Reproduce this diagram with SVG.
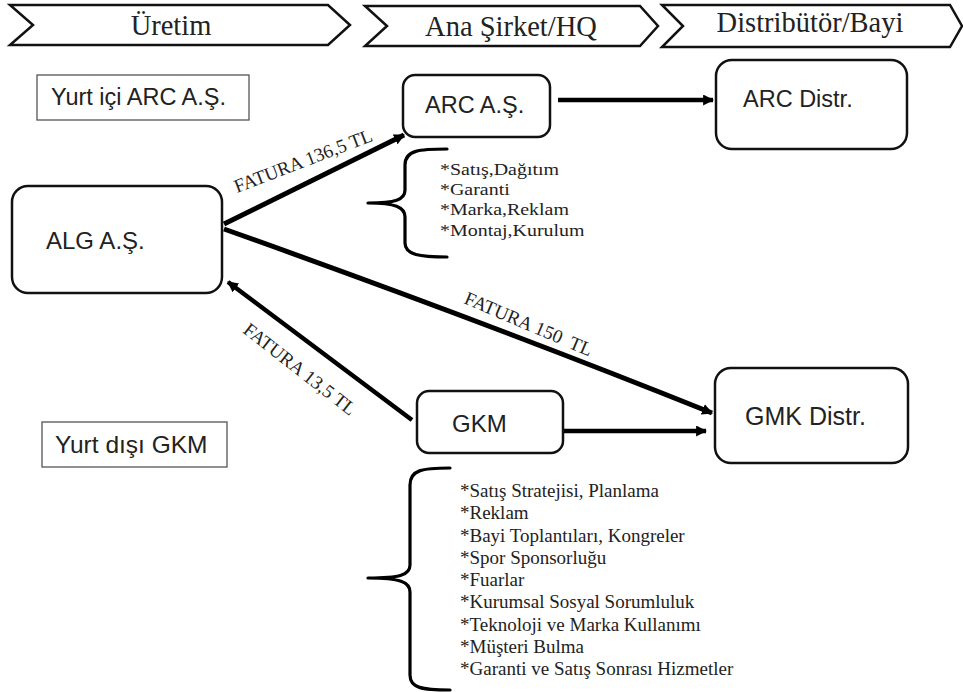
<svg xmlns="http://www.w3.org/2000/svg" width="963" height="692" viewBox="0 0 963 692">
<style>
.chev{fill:#fff;stroke:#111;stroke-width:2.5;stroke-linejoin:miter}
.hd{font-family:"Liberation Serif","Times New Roman",serif;font-size:28.5px;fill:#222;text-anchor:middle}
.box{fill:#fff;stroke:#111;stroke-width:2.5}
.lbl{font-family:"Liberation Sans",Arial,sans-serif;font-size:23.5px;fill:#222}
.plain{fill:#fff;stroke:#555;stroke-width:1.3}
.ln{fill:none;stroke:#000;stroke-width:5}
.ln2{fill:none;stroke:#000;stroke-width:4.5}
.brace{fill:none;stroke:#000;stroke-width:3.2;stroke-linecap:round;stroke-linejoin:round}
.fat{font-family:"Liberation Serif","Times New Roman",serif;font-size:19px;fill:#222}
.li{font-family:"Liberation Serif","Times New Roman",serif;font-size:17.5px;fill:#222}
.li2{font-family:"Liberation Serif","Times New Roman",serif;font-size:19px;fill:#222}
</style>
<defs>
<marker id="ah" viewBox="0 0 10 10" refX="9" refY="5" markerWidth="11" markerHeight="11" markerUnits="userSpaceOnUse" orient="auto">
<path d="M0,0 L10,5 L0,10 Z" fill="#000"/>
</marker>
</defs>
<rect width="963" height="692" fill="#fff"/>

<g id="header">
<g id="h-uretim"><polygon class="chev" points="10,5 328,5 350,25 328,45 10,45 33,25"/><text class="hd" x="171" y="35">Üretim</text></g>
<g id="h-ana"><polygon class="chev" points="365,6 640,6 658,26 640,46 365,46 387,26"/><text class="hd" x="511" y="36">Ana Şirket/HQ</text></g>
<g id="h-dist"><polygon class="chev" points="662,5 950,5 962,26 950,47 662,47 683,26"/><text class="hd" x="810" y="32">Distribütör/Bayi</text></g>
</g>

<g id="yurtici"><rect class="plain" x="37" y="75" width="212" height="45"/><text class="lbl" x="51" y="105">Yurt içi ARC A.Ş.</text></g>
<g id="yurtdisi"><rect class="plain" x="42" y="422" width="185" height="45"/><text class="lbl" x="55" y="453" style="font-size:24.5px">Yurt dışı GKM</text></g>

<g id="alg"><rect class="box" x="12" y="186" width="210" height="107" rx="16"/><text class="lbl" x="46" y="249" style="font-size:24px">ALG A.Ş.</text></g>
<g id="arc"><rect class="box" x="403" y="75" width="147" height="62" rx="12"/><text class="lbl" x="425" y="113">ARC A.Ş.</text></g>
<g id="arcdistr"><rect class="box" x="716" y="60" width="191" height="89" rx="16"/><text class="lbl" x="743" y="107">ARC Distr.</text></g>
<g id="gkm"><rect class="box" x="417" y="391" width="146" height="62" rx="12"/><text class="lbl" x="452" y="432" style="font-size:24px">GKM</text></g>
<g id="gmkdistr"><rect class="box" x="715" y="368" width="193" height="95" rx="16"/><text class="lbl" x="745" y="425" style="font-size:25px">GMK Distr.</text></g>

<g id="connectors">
<line class="ln" x1="224" y1="224" x2="404" y2="135" marker-end="url(#ah)"/>
<line class="ln2" x1="558" y1="100" x2="713" y2="100" marker-end="url(#ah)"/>
<path class="ln" d="M224,229 Q480,320 712,413" marker-end="url(#ah)"/>
<line class="ln2" x1="412" y1="420" x2="228" y2="282" marker-end="url(#ah)"/>
<line class="ln2" x1="564" y1="431" x2="706" y2="431" marker-end="url(#ah)"/>
<text class="fat" transform="translate(237,193) rotate(-21)">FATURA 136,5 TL</text>
<text class="fat" xml:space="preserve" transform="translate(463,303) rotate(23)">FATURA 150  TL</text>
<text class="fat" transform="translate(242,332) rotate(38)">FATURA 13,5 TL</text>
</g>

<g id="arc-list">
<path class="brace" d="M447,149 C420,149 405,150 405,165 L405,190 C405,200 395,203 368,203 C395,203 405,207 405,217 L405,243 C405,255 420,257 447,257"/>
<g transform="translate(440,0) scale(1.14,1)">
<text class="li" x="0" y="175">*Satış,Dağıtım</text>
<text class="li" x="0" y="195">*Garanti</text>
<text class="li" x="0" y="215">*Marka,Reklam</text>
<text class="li" x="0" y="236">*Montaj,Kurulum</text>
</g>
</g>

<g id="gkm-list">
<path class="brace" d="M450,468 C422,468 410,470 410,485 L410,565 C410,575 400,578 368,578 C400,578 410,582 410,592 L410,675 C410,688 422,690 450,690"/>
<text class="li2" x="460" y="497">*Satış Stratejisi, Planlama</text>
<text class="li2" x="460" y="519">*Reklam</text>
<text class="li2" x="460" y="542">*Bayi Toplantıları, Kongreler</text>
<text class="li2" x="460" y="564">*Spor Sponsorluğu</text>
<text class="li2" x="460" y="586">*Fuarlar</text>
<text class="li2" x="460" y="608">*Kurumsal Sosyal Sorumluluk</text>
<text class="li2" x="460" y="631">*Teknoloji ve Marka Kullanımı</text>
<text class="li2" x="460" y="653">*Müşteri Bulma</text>
<text class="li2" x="460" y="675">*Garanti ve Satış Sonrası Hizmetler</text>
</g>
</svg>
